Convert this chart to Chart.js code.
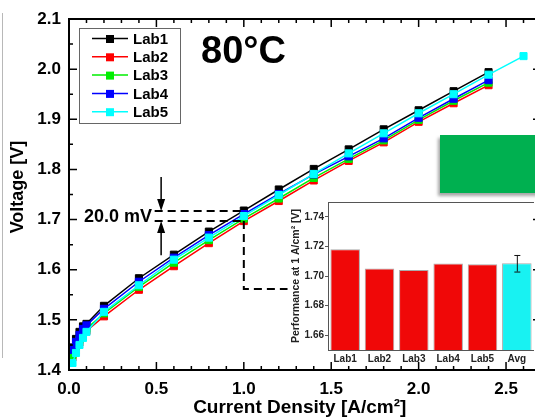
<!DOCTYPE html>
<html><head><meta charset="utf-8">
<script src="https://cdn.jsdelivr.net/npm/chart.js@4.4.0/dist/chart.umd.min.js"></script>
<style>
html,body{margin:0;padding:0;background:#fff;overflow:hidden;width:535px;height:417px;}
#wrap{position:relative;width:535px;height:417px;overflow:hidden;}
#main{position:absolute;left:0;top:0;}
#inset{position:absolute;left:270px;top:190px;}
#leftline{position:absolute;left:2px;top:13px;width:1px;height:345px;background:#b8b8b8;}
#green{position:absolute;left:440px;top:135px;width:110px;height:58px;background:#00b050;box-shadow:-2px 3px 3px rgba(0,0,0,0.35);}
</style></head>
<body><div id="wrap"><div id="leftline"></div><canvas id="main" width="560" height="417" style="width:560px;height:417px"></canvas><div id="green"></div><canvas id="inset" width="264" height="180" style="width:264px;height:180px"></canvas></div>
<script>
// ---- data ----
const currentDensity = [0.02,0.04,0.06,0.08,0.1,0.2,0.4,0.6,0.8,1.0,1.2,1.4,1.6,1.8,2.0,2.2,2.4];
const currentDensityLab5 = [0.02,0.04,0.06,0.08,0.1,0.2,0.4,0.6,0.8,1.0,1.2,1.4,1.6,1.8,2.0,2.2,2.4,2.6];
const lab1V = [1.445,1.462,1.476,1.487,1.492,1.528,1.583,1.630,1.676,1.718,1.760,1.801,1.840,1.880,1.918,1.956,1.994];
const lab2V = [1.425,1.438,1.455,1.468,1.478,1.507,1.560,1.607,1.653,1.697,1.737,1.778,1.817,1.854,1.895,1.932,1.968];
const lab3V = [1.430,1.445,1.460,1.473,1.482,1.513,1.566,1.614,1.659,1.702,1.742,1.783,1.821,1.858,1.899,1.937,1.973];
const lab4V = [1.440,1.456,1.470,1.482,1.489,1.522,1.576,1.624,1.669,1.711,1.751,1.790,1.826,1.862,1.903,1.941,1.978];
const lab5V = [1.414,1.434,1.450,1.464,1.476,1.516,1.569,1.620,1.664,1.707,1.749,1.791,1.832,1.872,1.912,1.950,1.989,2.026];
const seriesNames = ['Lab1','Lab2','Lab3','Lab4','Lab5'];
const seriesColors = ['#000000','#ff0000','#00ee00','#0000ff','#00ffff'];
const xTickValues = [0,0.5,1.0,1.5,2.0,2.5];
const yTickValues = [1.4,1.5,1.6,1.7,1.8,1.9,2.0,2.1];

const insetLabels = ['Lab1','Lab2','Lab3','Lab4','Lab5','Avg'];
const insetValues = [1.718,1.705,1.704,1.7085,1.708,1.7086];
const insetColors = ['#f00808','#f00808','#f00808','#f00808','#f00808','#18f2f2'];
const avgError = 0.0056;
const insetTickValues = [1.66,1.68,1.70,1.72,1.74];

const xsets = [currentDensity,currentDensity,currentDensity,currentDensity,currentDensityLab5];
const ysets = [lab1V,lab2V,lab3V,lab4V,lab5V];
const datasets = seriesNames.map((n,i)=>({
  label:n,
  data: xsets[i].map((x,j)=>({x:x,y:ysets[i][j]})),
  borderColor: seriesColors[i],
  backgroundColor: seriesColors[i],
  pointBackgroundColor: seriesColors[i],
  pointBorderColor: seriesColors[i],
  pointStyle:'rect', pointRadius:5, pointBorderWidth:1,
  borderWidth:1.5, tension:0, order: 5-i
}));

const F = 'Liberation Sans, Arial, sans-serif';

const decor = {
  id:'decor',
  afterDraw(chart){
    const ctx = chart.ctx, ca = chart.chartArea;
    const xs = chart.scales.x, ys = chart.scales.y;
    ctx.save();
    // frame
    ctx.strokeStyle='#000'; ctx.lineWidth=2;
    ctx.strokeRect(ca.left, ca.top, ca.right-ca.left, ca.bottom-ca.top);
    // ticks (inward, minor + major)
    ctx.lineWidth=1.5;
    for(let i=0;i<=27;i++){
      const v=i/10, p=xs.getPixelForValue(v), len=(i%5===0)?8:4;
      ctx.beginPath();
      ctx.moveTo(p,ca.bottom); ctx.lineTo(p,ca.bottom-len);
      ctx.moveTo(p,ca.top); ctx.lineTo(p,ca.top+len);
      ctx.stroke();
    }
    for(let i=0;i<=14;i++){
      const v=1.4+i*0.05, p=ys.getPixelForValue(v), len=(i%2===0)?8:4;
      ctx.beginPath();
      ctx.moveTo(ca.left,p); ctx.lineTo(ca.left+len,p);
      ctx.moveTo(ca.right,p); ctx.lineTo(ca.right-len,p);
      ctx.stroke();
    }
    // axis titles
    ctx.fillStyle='#000'; ctx.textAlign='center'; ctx.textBaseline='middle';
    ctx.save();
    ctx.translate(18, ys.getPixelForValue(1.765));
    ctx.rotate(-Math.PI/2);
    ctx.font='bold 18px '+F;
    ctx.fillText('Voltage [V]',0,0);
    ctx.restore();
    ctx.font='bold 19px '+F;
    ctx.fillText('Current Density [A/cm²]', xs.getPixelForValue(1.32), 408);
    // legend
    const lx=79, ly=28;
    ctx.fillStyle='#fff'; ctx.fillRect(lx,ly,101,95);
    ctx.strokeStyle='#666'; ctx.lineWidth=1; ctx.strokeRect(lx+0.5,ly+0.5,101,95);
    chart.data.datasets.forEach((d,i)=>{
      const y = ly+10.5+i*18.3;
      ctx.strokeStyle=d.borderColor; ctx.lineWidth=1.5;
      ctx.beginPath(); ctx.moveTo(92,y); ctx.lineTo(128,y); ctx.stroke();
      ctx.fillStyle=d.borderColor; ctx.fillRect(106,y-3.5,8,8);
      ctx.fillStyle='#000'; ctx.font='bold 15px '+F; ctx.textAlign='left'; ctx.textBaseline='middle';
      ctx.fillText(d.label,133,y+1);
    });
    // 80°C
    ctx.fillStyle='#000'; ctx.font='bold 38px '+F; ctx.textAlign='left'; ctx.textBaseline='alphabetic';
    ctx.fillText('80°C',201,63);
    // annotation
    const y1=ys.getPixelForValue(1.717), y2=ys.getPixelForValue(1.697);
    const xa=xs.getPixelForValue(0.49), xb=xs.getPixelForValue(1.0);
    ctx.strokeStyle='#000'; ctx.lineWidth=2; ctx.setLineDash([8,5]);
    ctx.beginPath(); ctx.moveTo(xa,y1); ctx.lineTo(xb,y1); ctx.moveTo(xa,y2); ctx.lineTo(xb,y2); ctx.stroke();
    const yc=ys.getPixelForValue(1.5615), xe=xs.getPixelForValue(1.25);
    ctx.beginPath(); ctx.moveTo(xb,y2); ctx.lineTo(xb,yc); ctx.lineTo(xe,yc); ctx.stroke();
    ctx.setLineDash([]);
    const xarr=xs.getPixelForValue(0.527);
    const ytop=ys.getPixelForValue(1.785), ybot=ys.getPixelForValue(1.629);
    ctx.lineWidth=1.5;
    ctx.beginPath(); ctx.moveTo(xarr,ytop); ctx.lineTo(xarr,y1-10); ctx.moveTo(xarr,ybot); ctx.lineTo(xarr,y2+10); ctx.stroke();
    ctx.fillStyle='#000';
    ctx.beginPath(); ctx.moveTo(xarr,y1); ctx.lineTo(xarr-4,y1-12); ctx.lineTo(xarr+4,y1-12); ctx.closePath(); ctx.fill();
    ctx.beginPath(); ctx.moveTo(xarr,y2); ctx.lineTo(xarr-4,y2+12); ctx.lineTo(xarr+4,y2+12); ctx.closePath(); ctx.fill();
    ctx.font='bold 18px '+F; ctx.textAlign='right'; ctx.textBaseline='middle';
    ctx.fillText('20.0 mV', xs.getPixelForValue(0.475), (y1+y2)/2+1);
    ctx.restore();
  }
};

new Chart(document.getElementById('main'), {
  type:'line',
  data:{datasets},
  options:{
    responsive:false, animation:false,
    layout:{padding:{left:0,top:19,right:19,bottom:0}},
    plugins:{legend:{display:false}, tooltip:{enabled:false}},
    scales:{
      x:{type:'linear', min:0, max:2.7,
        afterBuildTicks:s=>{s.ticks=xTickValues.map(v=>({value:v}));},
        afterFit:s=>{s.height=47;},
        grid:{display:false, drawTicks:false}, border:{display:false},
        ticks:{padding:9, color:'#000', font:{family:F,size:17,weight:'bold'}, callback:v=>Number(v).toFixed(1), maxRotation:0}
      },
      y:{type:'linear', min:1.4, max:2.1,
        afterBuildTicks:s=>{s.ticks=yTickValues.map(v=>({value:v}));},
        afterFit:s=>{s.width=69;},
        grid:{display:false, drawTicks:false}, border:{display:false},
        ticks:{padding:8, color:'#000', font:{family:F,size:17,weight:'bold'}, callback:v=>Number(v).toFixed(1)}
      }
    }
  },
  plugins:[decor]
});

const insetDecor = {
  id:'insetDecor',
  afterDraw(chart){
    const ctx=chart.ctx, ca=chart.chartArea, xs=chart.scales.x, ys=chart.scales.y;
    ctx.save();
    ctx.strokeStyle='#555'; ctx.lineWidth=1;
    ctx.beginPath(); ctx.moveTo(ca.left,ca.top+0.5); ctx.lineTo(ca.right,ca.top+0.5); ctx.stroke();
    const i=insetLabels.length-1, xp=xs.getPixelForValue(i);
    const yh=ys.getPixelForValue(insetValues[i]+avgError), yl=ys.getPixelForValue(insetValues[i]-avgError);
    ctx.strokeStyle='#111'; ctx.lineWidth=1;
    ctx.beginPath(); ctx.moveTo(xp+0.5,yh); ctx.lineTo(xp+0.5,yl);
    ctx.moveTo(xp-2.5,yh+0.5); ctx.lineTo(xp+3.5,yh+0.5);
    ctx.moveTo(xp-2.5,yl+0.5); ctx.lineTo(xp+3.5,yl+0.5); ctx.stroke();
    ctx.restore();
  }
};

new Chart(document.getElementById('inset'), {
  type:'bar',
  data:{labels:insetLabels, datasets:[{data:insetValues, backgroundColor:insetColors, borderColor:'#aaaaaa', borderWidth:1, borderSkipped:false, barPercentage:0.86, categoryPercentage:1}]},
  options:{
    responsive:false, animation:false,
    layout:{padding:{left:21,top:12,right:0,bottom:0}},
    plugins:{legend:{display:false}, tooltip:{enabled:false}},
    scales:{
      x:{afterFit:s=>{s.height=20;}, grid:{display:false, drawTicks:false}, border:{display:true,color:'#555',width:1},
        ticks:{padding:3, color:'#222', font:{family:F,size:10,weight:'bold'}}},
      y:{min:1.65, max:1.75,
        afterBuildTicks:s=>{s.ticks=insetTickValues.map(v=>({value:v}));},
        afterFit:s=>{s.width=37;},
        grid:{display:true, drawOnChartArea:false, drawTicks:true, tickLength:3, color:'#555'}, border:{display:true,color:'#555',width:1},
        ticks:{padding:1, color:'#222', font:{family:F,size:10,weight:'bold'}, callback:v=>Number(v).toFixed(2)},
        title:{display:true, text:'Performance at 1 A/cm² [V]', color:'#222', font:{family:F,size:10.5,weight:'bold',lineHeight:1}, padding:{top:0,bottom:0}}
      }
    }
  },
  plugins:[insetDecor]
});
</script>
</body></html>
